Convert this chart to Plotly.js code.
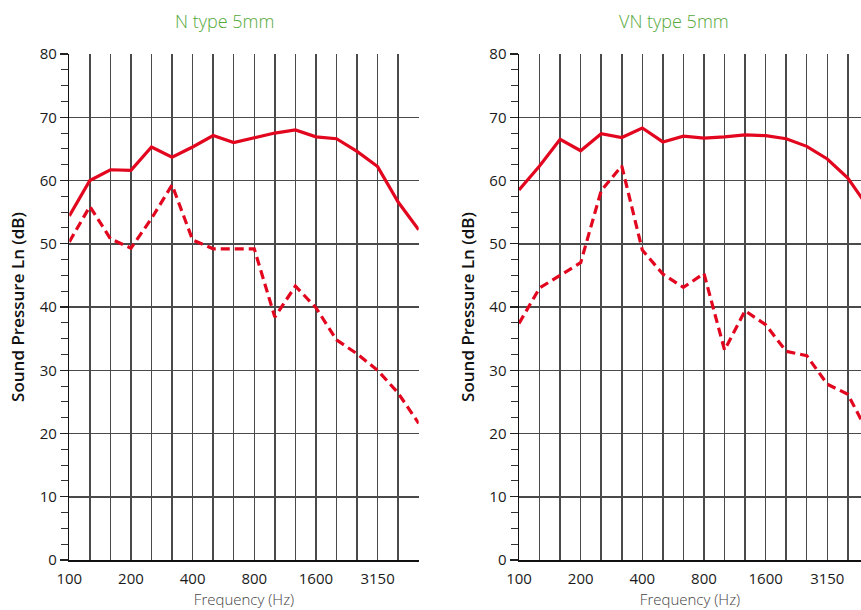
<!DOCTYPE html>
<html>
<head>
<meta charset="utf-8">
<script src="https://cdn.plot.ly/plotly-3.0.1.min.js"></script>
<style>html,body{margin:0;padding:0;background:#fff;}#chart{width:861px;height:610px;}</style>
</head>
<body>
<div id="chart"></div>
<script>
// Third-octave band centre frequencies (Hz)
const frequencies = ["100","125","160","200","250","315","400","500","630","800","1000","1250","1600","2000","2500","3150","4000","5000"];
const tickLabels = {"100":"100","200":"200","400":"400","800":"800","1600":"1600","3150":"3150"};

// N type 5mm
const nTypeSolid  = [54.4, 60.0, 61.7, 61.6, 65.3, 63.7, 65.3, 67.1, 66.0, 66.8, 67.5, 68.0, 66.9, 66.6, 64.6, 62.2, 56.6, 52.2];
const nTypeDashed = [50.3, 55.9, 50.8, 49.3, 54.0, 59.3, 50.6, 49.2, 49.2, 49.2, 38.4, 43.3, 39.9, 34.8, 32.6, 30.0, 26.4, 21.6];

// VN type 5mm
const vnTypeSolid  = [58.5, 62.3, 66.5, 64.7, 67.4, 66.8, 68.3, 66.1, 67.0, 66.7, 66.9, 67.2, 67.1, 66.6, 65.4, 63.4, 60.4, 55.7];
const vnTypeDashed = [37.4, 43.0, 45.0, 47.0, 58.4, 62.3, 49.0, 45.2, 43.1, 45.3, 33.2, 39.4, 37.2, 33.0, 32.3, 27.8, 26.2, 20.0];

const titles = ["N type 5mm", "VN type 5mm"];
const yTitle = "Sound Pressure Ln (dB)";
const xTitle = "Frequency (Hz)";

const red = "#e2061e";
const gridColor = "#4a4a4a";
const W = 861, H = 610;
const FONT = "Open Sans, Noto Sans, sans-serif";

function px(x){ return x / W; }

const traces = [
  {x: frequencies, y: nTypeSolid, xaxis:"x", yaxis:"y", mode:"lines", line:{color:red, width:3.2}, hoverinfo:"skip"},
  {x: frequencies, y: nTypeDashed, xaxis:"x", yaxis:"y", mode:"lines", line:{color:red, width:3.2, dash:"9px,5px"}, hoverinfo:"skip"},
  {x: frequencies, y: vnTypeSolid, xaxis:"x2", yaxis:"y2", mode:"lines", line:{color:red, width:3.2}, hoverinfo:"skip"},
  {x: frequencies, y: vnTypeDashed, xaxis:"x2", yaxis:"y2", mode:"lines", line:{color:red, width:3.2, dash:"9px,5px"}, hoverinfo:"skip"}
];

const tickText = frequencies.map(f => tickLabels[f] || "");

function xAxis(domain, rangeEnd, anchor){
  return {
    type:"category", domain: domain, range:[0, rangeEnd], anchor: anchor,
    categoryorder:"array", categoryarray: frequencies,
    tickmode:"array", tickvals: frequencies, ticktext: tickText,
    showgrid:true, gridcolor:gridColor, gridwidth:1.5,
    showline:true, linecolor:"#111", linewidth:1.5,
    ticks:"", ticklabelstandoff:4,
    tickfont:{family:FONT, size:15, color:"#1a1a1a"},
    title:{text:xTitle, font:{family:FONT, size:15, color:"#444", weight:300}, standoff:8},
    zeroline:false, fixedrange:true
  };
}
function yAxis(anchor){
  return {
    range:[0,80], dtick:10, anchor: anchor, domain:[0,1],
    showgrid:true, gridcolor:gridColor, gridwidth:1.5,
    showline:true, linecolor:"#111", linewidth:1.5,
    ticks:"outside", ticklen:8, tickcolor:"#222", tickwidth:1.2,
    minor:{dtick:2.5, ticks:"outside", ticklen:7, tickcolor:"#333", tickwidth:1.1, showgrid:false},
    tickfont:{family:FONT, size:15, color:"#1a1a1a"},
    title:{text:yTitle, font:{family:FONT, size:17, color:"#111", weight:600}, standoff:10},
    zeroline:false, fixedrange:true
  };
}

const plotTop = 54.3, plotBottom = 559.8;
function py(y){ return (plotBottom - y) / (plotBottom - plotTop); }

const layout = {
  width: W, height: H,
  margin:{l:0, r:0, t:plotTop, b:H - plotBottom, pad:0},
  paper_bgcolor:"#fff", plot_bgcolor:"#fff",
  showlegend:false,
  xaxis: xAxis([px(69.3), px(418.7)], 17, "y"),
  yaxis: yAxis("x"),
  xaxis2: xAxis([px(519), 1], 16.64, "y2"),
  yaxis2: yAxis("x2"),
  annotations:[
    {text:titles[0], xref:"paper", yref:"paper", x:px(224.7), y:py(21), showarrow:false, xanchor:"center", yanchor:"middle", font:{family:FONT, size:18, color:"#55a83a", weight:300}},
    {text:titles[1], xref:"paper", yref:"paper", x:px(674), y:py(21), showarrow:false, xanchor:"center", yanchor:"middle", font:{family:FONT, size:18, color:"#55a83a", weight:300}}
  ]
};

Plotly.newPlot("chart", traces, layout, {displayModeBar:false, staticPlot:true});
</script>
</body>
</html>
